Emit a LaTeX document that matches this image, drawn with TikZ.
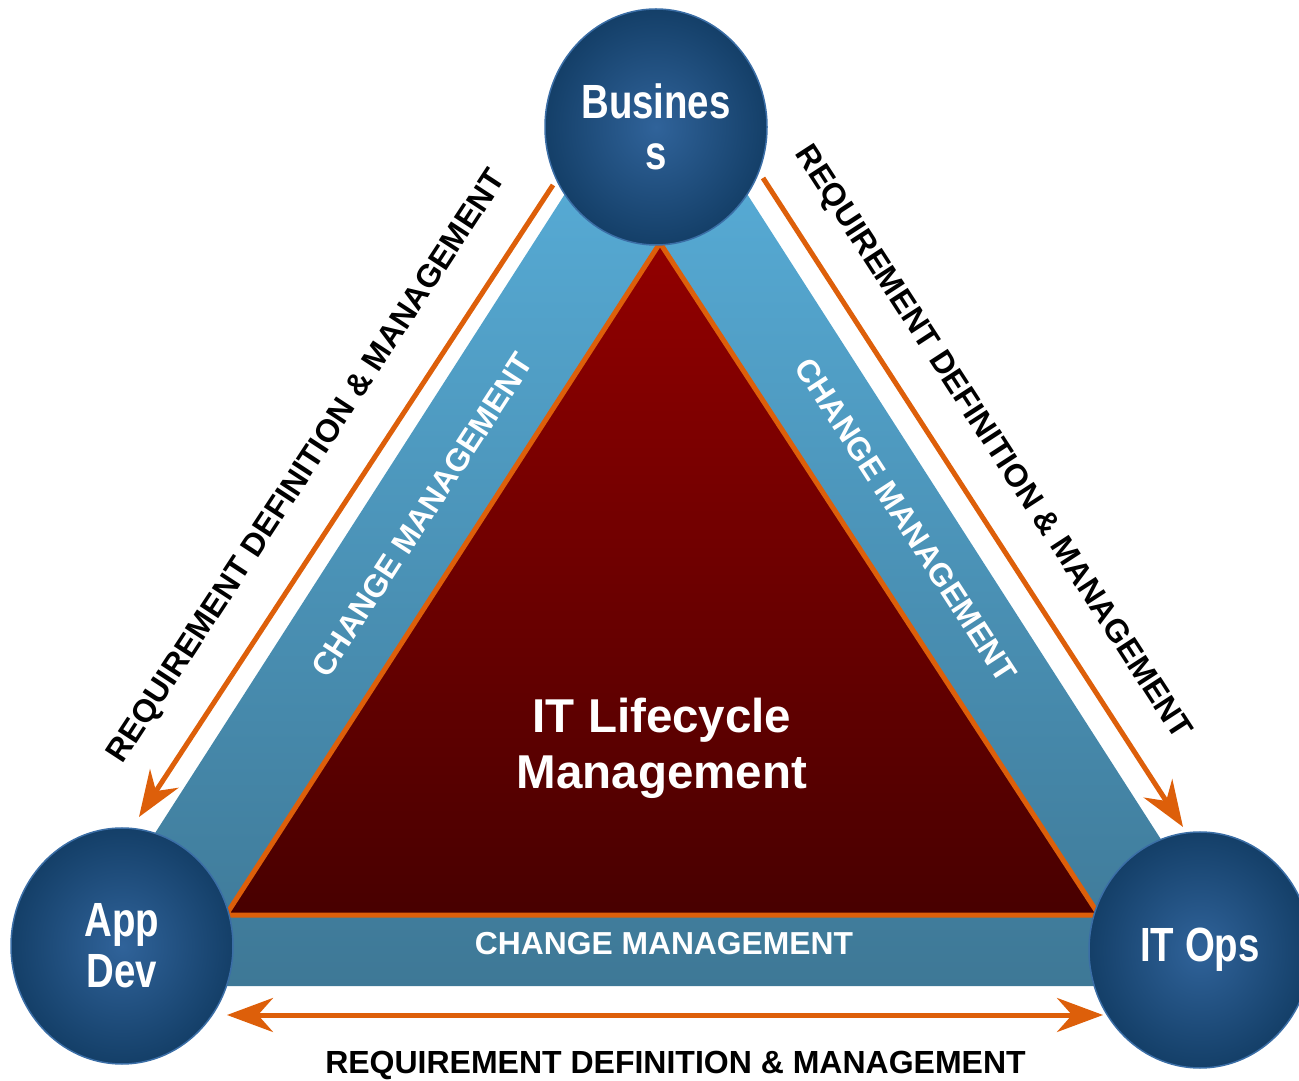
\documentclass[tikz,border=0pt]{standalone}
\usepackage{fontspec}
\setmainfont{Liberation Sans}
\newfontfamily\narrowsans[FakeStretch=0.8]{Liberation Sans}
\usetikzlibrary{arrows.meta,positioning,shapes.geometric}

\definecolor{bandtop}{HTML}{5AB2DE}
\definecolor{bandbot}{HTML}{3E7896}
\definecolor{coretop}{HTML}{920000}
\definecolor{corebot}{HTML}{480000}
\definecolor{flowline}{HTML}{DD5F0A}
\definecolor{hubin}{HTML}{30639A}
\definecolor{hubout}{HTML}{143F68}
\definecolor{hubedge}{HTML}{3B6EA6}

\begin{document}
\begin{tikzpicture}[
    x=1pt, y=1pt,
    hub/.style={ellipse, draw=hubedge, line width=1.5pt, inner color=hubin, outer color=hubout,
        minimum width=222pt, minimum height=236pt, inner sep=0pt, align=center, text=white,
        font=\narrowsans\bfseries\fontsize{48}{51}\selectfont},
    req/.style={inner sep=0pt, text=black, font=\bfseries\fontsize{32}{36}\selectfont},
    chg/.style={inner sep=0pt, text=white, font=\bfseries\fontsize{31.8}{34}\selectfont},
    flow/.style={flowline, line width=5pt, -{Stealth[length=46pt,width=34pt,inset=15pt]}},
    twoway/.style={flow, {Stealth[length=46pt,width=34pt,inset=15pt]}-{Stealth[length=46pt,width=34pt,inset=15pt]}}
]
\useasboundingbox (0,0) rectangle (1299,1080);

% Outer band
\path[top color=bandtop, bottom color=bandbot] (57,94) -- (656,1028) -- (1255,94) -- cycle;

% Inner triangle
\path[draw=flowline, line width=5pt, top color=coretop, bottom color=corebot]
    (226,165) -- (660,837) -- (1099,165) -- cycle;
\node[text=white, align=center, font=\bfseries\fontsize{47.5}{56}\selectfont] (core) at (662,332) {IT Lifecycle\\Management};

% Change management labels
\node[chg, rotate=57] (chgleft) at (422,565) {CHANGE MANAGEMENT};
\node[chg, rotate=-57] (chgright) at (906,560) {CHANGE MANAGEMENT};
\node[chg] (chgbottom) at (664,136) {CHANGE MANAGEMENT};

% Requirement arrows
\coordinate (lstart) at (553,895);
\coordinate (ltip) at (139,263);
\coordinate (rstart) at (763,902);
\coordinate (rtip) at (1183,253);
\coordinate (bleft) at (227,65);
\coordinate (bright) at (1103,65);
\draw[flow] (lstart) -- (ltip);
\draw[flow] (rstart) -- (rtip);
\draw[twoway] (bleft) -- (bright);

\node[req, rotate=56.8] (reqleft) at (308,613) {REQUIREMENT DEFINITION \& MANAGEMENT};
\node[req, rotate=-57] (reqright) at (992,637) {REQUIREMENT DEFINITION \& MANAGEMENT};
\node[req] (reqbottom) at (675.5,15) {REQUIREMENT DEFINITION \& MANAGEMENT};

% Hubs
\node[hub] (business) at (656,953) {Busines\\s};
\node[hub] (appdev) at (122,134) {App\\Dev};
\node[hub] (itops) at (1200,130) {IT Ops};

\end{tikzpicture}
\end{document}
